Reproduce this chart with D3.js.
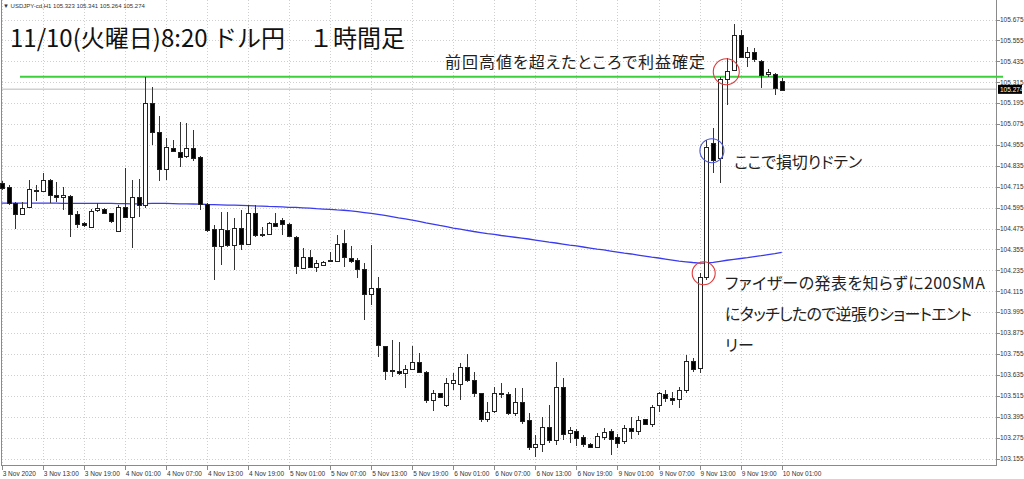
<!DOCTYPE html>
<html><head><meta charset="utf-8">
<script src="https://cdn.jsdelivr.net/npm/d3@7"></script>
<style>body{margin:0;background:#fff;overflow:hidden} svg{display:block}</style>
</head><body>
<svg id="c" width="1024" height="479"></svg>
<script>
// ---- data (USDJPY H1, 3 Nov 07:00 .. 10 Nov 01:00 server time) ----
const openP = [104.738,104.711,104.623,104.558,104.595,104.694,104.690,104.753,104.669,104.658,
104.662,104.556,104.505,104.485,104.581,104.587,104.562,104.461,104.596,104.543,
104.658,104.610,105.194,105.031,104.817,104.939,104.912,104.891,104.939,104.884,
104.614,104.470,104.370,104.466,104.380,104.476,104.386,104.566,104.442,104.443,
104.508,104.524,104.499,104.428,104.252,104.310,104.250,104.269,104.292,104.290,
104.390,104.307,104.294,104.241,104.099,104.135,103.800,103.663,103.657,103.644,
103.667,103.710,103.653,103.494,103.529,103.462,103.590,103.586,103.678,103.605,
103.529,103.385,103.423,103.529,103.525,103.414,103.480,103.374,103.219,103.238,
103.337,103.260,103.563,103.299,103.314,103.276,103.238,103.219,103.279,103.314,
103.279,103.251,103.331,103.314,103.379,103.352,103.462,103.525,103.500,103.494,
103.548,103.716,103.672,104.196,104.968,104.880,105.337,105.385,105.586,105.461,
105.487,105.438,105.362,105.362,105.323];
const highP = [104.747,104.725,104.629,104.629,104.753,104.725,104.792,104.757,104.744,104.715,
104.667,104.577,104.514,104.585,104.620,104.591,104.566,104.610,104.822,104.753,
104.757,105.347,105.289,105.121,104.993,104.983,105.088,105.079,105.041,104.891,
104.619,104.495,104.571,104.571,104.534,104.581,104.610,104.610,104.485,104.514,
104.562,104.534,104.505,104.432,104.361,104.351,104.294,104.290,104.342,104.438,
104.466,104.376,104.304,104.275,104.380,104.198,103.803,103.835,103.825,103.691,
103.802,103.762,103.657,103.548,103.532,103.615,103.647,103.701,103.754,103.653,
103.532,103.480,103.567,103.586,103.538,103.559,103.557,103.414,103.289,103.391,
103.462,103.710,103.615,103.333,103.322,103.289,103.245,103.299,103.328,103.322,
103.295,103.347,103.394,103.398,103.384,103.462,103.538,103.548,103.538,103.567,
103.749,103.731,104.219,104.983,105.050,105.345,105.452,105.649,105.615,105.519,
105.510,105.442,105.389,105.366,105.341];
const lowP = [104.696,104.613,104.470,104.553,104.591,104.635,104.686,104.620,104.629,104.581,
104.428,104.476,104.485,104.482,104.571,104.562,104.505,104.457,104.534,104.363,
104.543,104.591,104.954,104.749,104.753,104.916,104.830,104.878,104.864,104.581,
104.457,104.179,104.265,104.370,104.237,104.351,104.380,104.428,104.428,104.438,
104.485,104.438,104.428,104.214,104.246,104.246,104.227,104.265,104.284,104.284,
104.256,104.275,104.189,103.949,104.036,103.739,103.605,103.624,103.634,103.557,
103.662,103.647,103.471,103.429,103.500,103.452,103.548,103.490,103.595,103.509,
103.366,103.366,103.414,103.500,103.404,103.398,103.352,103.203,103.165,103.193,
103.242,103.232,103.260,103.242,103.226,103.222,103.213,103.213,103.260,103.174,
103.213,103.238,103.265,103.289,103.347,103.337,103.423,103.480,103.462,103.443,
103.529,103.653,103.644,104.179,104.792,104.735,105.184,105.382,105.452,105.404,
105.433,105.280,105.347,105.242,105.264];
const closeP = [104.711,104.620,104.562,104.591,104.700,104.689,104.753,104.667,104.658,104.669,
104.558,104.501,104.493,104.577,104.595,104.566,104.514,104.600,104.538,104.658,
104.610,105.194,105.025,104.821,104.945,104.920,104.884,104.939,104.884,104.614,
104.462,104.370,104.470,104.380,104.476,104.386,104.566,104.442,104.436,104.508,
104.493,104.501,104.432,104.260,104.313,104.252,104.275,104.284,104.287,104.386,
104.310,104.290,104.241,104.099,104.132,103.806,103.658,103.658,103.644,103.668,
103.710,103.653,103.494,103.532,103.506,103.586,103.605,103.681,103.605,103.529,
103.379,103.423,103.529,103.523,103.414,103.480,103.371,103.219,103.236,103.337,
103.260,103.567,103.295,103.318,103.276,103.238,103.219,103.284,103.308,103.270,
103.245,103.328,103.314,103.375,103.352,103.452,103.529,103.500,103.490,103.548,
103.716,103.672,104.196,104.943,104.868,105.333,105.382,105.586,105.461,105.487,
105.447,105.356,105.375,105.280,105.274];
const sma200 = [104.621,104.621,104.621,104.621,104.621,104.621,104.621,104.621,104.621,104.620,
104.620,104.620,104.620,104.619,104.619,104.619,104.619,104.618,104.618,104.617,
104.617,104.618,104.619,104.619,104.619,104.618,104.617,104.617,104.616,104.615,
104.613,104.612,104.611,104.610,104.609,104.608,104.607,104.605,104.604,104.602,
104.601,104.599,104.597,104.596,104.594,104.592,104.589,104.587,104.585,104.582,
104.580,104.576,104.572,104.567,104.562,104.556,104.550,104.543,104.536,104.530,
104.523,104.516,104.508,104.501,104.493,104.486,104.478,104.472,104.465,104.458,
104.452,104.446,104.441,104.435,104.430,104.425,104.420,104.415,104.409,104.403,
104.397,104.392,104.386,104.380,104.375,104.369,104.363,104.357,104.352,104.346,
104.340,104.334,104.329,104.323,104.317,104.311,104.306,104.300,104.294,104.288,
104.284,104.280,104.277,104.277,104.281,104.287,104.293,104.298,104.303,104.308,
104.314,104.319,104.325,104.331,104.338];
const tickLabels = ["3 Nov 2020","3 Nov 13:00","3 Nov 19:00","4 Nov 01:00","4 Nov 07:00","4 Nov 13:00",
"4 Nov 19:00","5 Nov 01:00","5 Nov 07:00","5 Nov 13:00","5 Nov 19:00","6 Nov 01:00","6 Nov 07:00",
"6 Nov 13:00","6 Nov 19:00","9 Nov 01:00","9 Nov 07:00","9 Nov 13:00","9 Nov 19:00","10 Nov 01:00"];
const priceTicks = [105.675,105.555,105.435,105.315,105.195,105.075,104.955,104.835,104.715,104.595,
104.475,104.355,104.235,104.115,103.995,103.875,103.755,103.635,103.515,103.395,103.275,103.155];
const prevHigh = 105.347;   // green horizontal line
const symbol = "USDJPY-cd,H1";
const title = "11/10(火曜日)8:20 ドル円　１時間足";
const notes = [
  {text:"前回高値を超えたところで利益確定", x:445, y:68, w:260},
  {text:"ここで損切りドテン", x:734, y:168, w:128},
  {text:"ファイザーの発表を知らずに200SMA", x:725, y:289, w:260},
  {text:"にタッチしたので逆張りショートエント", x:725, y:320, w:247},
  {text:"リー", x:725, y:351, w:0}
];
const circles = [ // anchored in data units (bar index, price)
  {i:102.6, p:104.218, r:11.5, c:"#e03a3a"},
  {i:103.8, p:104.922, r:12, c:"#4a55d6"},
  {i:105.9, p:105.375, r:13, c:"#e03a3a"}
];

// ---- scales ----
const n = closeP.length;
const x = d3.scaleLinear().domain([0, n-1]).range([1.7, 781.7]);
const y = d3.scaleLinear().domain([103.155, 105.675]).range([458.5, 19.5]);
const L = 1.5, R = 996.5, B = 465.5;

const svg = d3.select("#c");
svg.append("rect").attr("width",1024).attr("height",479).attr("fill","#fff");

const grid = svg.append("g").attr("shape-rendering","crispEdges");
grid.selectAll("line.h").data(priceTicks).join("line")
  .attr("x1",L).attr("x2",R)
  .attr("y1",d=>Math.round(y(d))+0.5).attr("y2",d=>Math.round(y(d))+0.5)
  .attr("stroke","#cfcfcf").attr("stroke-dasharray","1,2");
grid.selectAll("line.v").data(tickLabels).join("line")
  .attr("x1",(d,k)=>Math.round(x(k*6))+0.5).attr("x2",(d,k)=>Math.round(x(k*6))+0.5)
  .attr("y1",0).attr("y2",B)
  .attr("stroke","#cfcfcf").attr("stroke-dasharray","1,2");

// bid line
svg.append("line").attr("x1",L).attr("x2",R)
  .attr("y1",y(closeP[n-1])).attr("y2",y(closeP[n-1]))
  .attr("stroke","#d0d0d0").attr("stroke-width",1.5);

// frame
svg.append("path").attr("d",`M${L},0V${B}H${R}V0`).attr("fill","none")
  .attr("stroke","#8a8a8a").attr("shape-rendering","crispEdges");

// SMA
svg.append("path").datum(sma200)
  .attr("d", d3.line().x((d,i)=>x(i)).y(d=>y(d)))
  .attr("fill","none").attr("stroke","#3a3af0").attr("stroke-width",1.3);

// green line
svg.append("line").attr("x1",20).attr("x2",1003)
  .attr("y1",y(prevHigh)).attr("y2",y(prevHigh))
  .attr("stroke","#3ccf3c").attr("stroke-width",2);

// candles
const idx = d3.range(n);
const cg = svg.append("g").attr("shape-rendering","crispEdges");
cg.selectAll("line.w").data(idx).join("line")
  .attr("x1",i=>Math.round(x(i))+0.5).attr("x2",i=>Math.round(x(i))+0.5)
  .attr("y1",i=>y(highP[i])).attr("y2",i=>y(lowP[i]))
  .attr("stroke","#333");
cg.selectAll("rect.b").data(idx).join("rect")
  .attr("x",i=>Math.round(x(i))-1.5)
  .attr("width",4)
  .attr("y",i=>Math.round(y(Math.max(openP[i],closeP[i])))+0.5)
  .attr("height",i=>Math.max(1, Math.round(Math.abs(y(openP[i])-y(closeP[i])))))
  .attr("fill",i=>closeP[i]>=openP[i]?"#fff":"#000")
  .attr("stroke","#222");

// circles
svg.selectAll("circle.a").data(circles).join("circle")
  .attr("cx",d=>x(d.i)).attr("cy",d=>y(d.p)).attr("r",d=>d.r)
  .attr("fill","none").attr("stroke",d=>d.c).attr("stroke-width",1.1);

// price axis labels
const ax = svg.append("g").attr("font-family","Liberation Sans, Arial, sans-serif").attr("font-size",6.5).attr("fill","#333");
ax.selectAll("line.t").data(priceTicks).join("line")
  .attr("x1",R).attr("x2",R+3).attr("y1",d=>Math.round(y(d))+0.5).attr("y2",d=>Math.round(y(d))+0.5)
  .attr("stroke","#8a8a8a").attr("shape-rendering","crispEdges");
ax.selectAll("text.p").data(priceTicks).join("text")
  .attr("x",1000).attr("y",d=>y(d)+2.3).text(d=>d.toFixed(3));
const cy = y(closeP[n-1]);
svg.append("rect").attr("x",998).attr("y",cy-4.5).attr("width",24).attr("height",9).attr("fill","#000");
svg.append("text").attr("x",1000).attr("y",cy+2.3).attr("font-family","Liberation Sans, Arial, sans-serif")
  .attr("font-size",6.5).attr("fill","#fff").text(closeP[n-1].toFixed(3));

// time axis
ax.selectAll("line.xt").data(tickLabels).join("line")
  .attr("x1",(d,k)=>Math.round(x(k*6))+0.5).attr("x2",(d,k)=>Math.round(x(k*6))+0.5)
  .attr("y1",B).attr("y2",B+4).attr("stroke","#8a8a8a").attr("shape-rendering","crispEdges");
ax.selectAll("text.x").data(tickLabels).join("text")
  .attr("x",(d,k)=>x(k*6)+1).attr("y",475.5).text(d=>d);

// header
svg.append("text").attr("x",3).attr("y",8).attr("font-family","Liberation Sans, Arial, sans-serif")
  .attr("font-size",6).attr("fill","#333")
  .text(`▼ ${symbol}  ${openP[n-1].toFixed(3)} ${highP[n-1].toFixed(3)} ${lowP[n-1].toFixed(3)} ${closeP[n-1].toFixed(3)}`);

// title & notes
const jp = "'Noto Sans CJK JP', 'Noto Sans', sans-serif";
svg.append("text").attr("x",10).attr("y",47).attr("font-family",jp).attr("font-size",24)
  .attr("fill","#111").text(title);
svg.selectAll("text.n").data(notes).join("text")
  .attr("x",d=>d.x).attr("y",d=>d.y).attr("font-family",jp).attr("font-size",16)
  .style("font-feature-settings","'palt'")
  .attr("fill","#222")
  .each(function(d){ if(d.w) d3.select(this).attr("textLength",d.w).attr("lengthAdjust","spacing"); })
  .text(d=>d.text);
</script>
</body></html>
